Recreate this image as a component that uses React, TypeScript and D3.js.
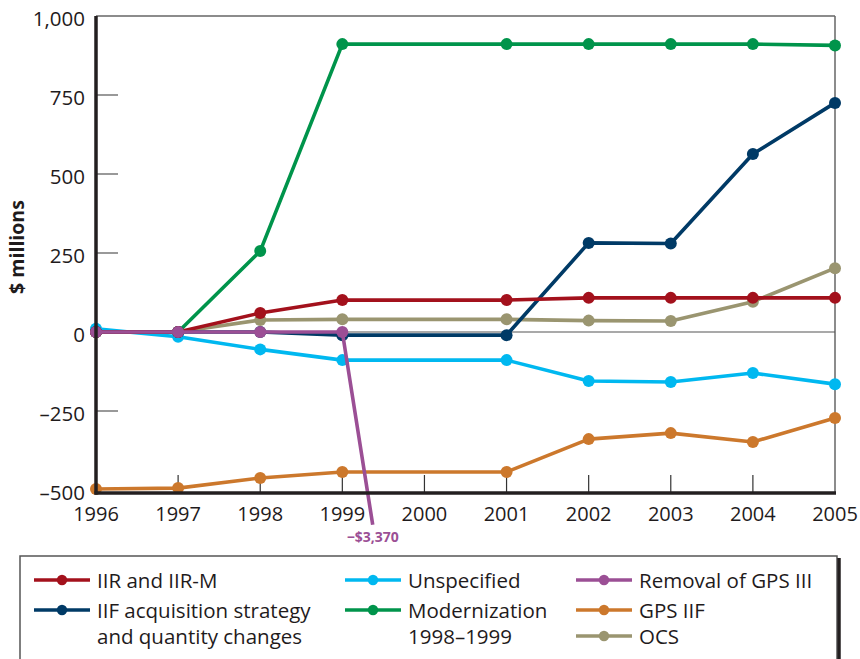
import React from "react";
import * as d3 from "d3";

const years = [1996, 1997, 1998, 1999, 2001, 2002, 2003, 2004, 2005];
const tickYears = [1996, 1997, 1998, 1999, 2000, 2001, 2002, 2003, 2004, 2005];
const yTicks = [1000, 750, 500, 250, 0, -250, -500];

const iirValues = [0, 0, 60, 101, 101, 108, 108, 108, 108];
const iifAcqValues = [0, 0, 0, -10, -10, 282, 280, 563, 725];
const unspecifiedValues = [10, -15, -55, -89, -89, -155, -158, -130, -165];
const modernizationValues = [0, 0, 256, 911, 911, 911, 911, 911, 907];
const removalYears = [1996, 1997, 1998, 1999];
const removalValues = [0, 0, 0, 0];
const removalDropValue = -3370;
const removalDropLabel = "−$3,370";
// visible end of the (broken, off-scale) drop segment
const removalDropVisibleEnd = { year: 1999.37, value: -610 };
const gpsIIFValues = [-497, -494, -462, -443, -443, -339, -320, -348, -272];
const ocsValues = [0, 0, 38, 40, 40, 36, 35, 96, 202];

const colors = {
  iir: "#a3111c",
  iif: "#003a66",
  unspec: "#00b8f0",
  modern: "#00944b",
  removal: "#9b4f95",
  gpsiif: "#cc782c",
  ocs: "#9a9570",
};

const W = 860;
const H = 659;
const font = "'Open Sans', 'Noto Sans', sans-serif";
const textColor = "#1f1b1c";

export default function App() {
  const x = d3.scaleLinear().domain([1996, 2005]).range([96, 835]);
  const y = d3.scaleLinear().domain([-500, 1000]).range([490, 16]);
  const line = d3
    .line<[number, number]>()
    .x((d) => x(d[0]))
    .y((d) => y(d[1]));

  const series = [
    { key: "ocs", vals: ocsValues, color: colors.ocs },
    { key: "gpsiif", vals: gpsIIFValues, color: colors.gpsiif },
    { key: "unspec", vals: unspecifiedValues, color: colors.unspec },
    { key: "modern", vals: modernizationValues, color: colors.modern },
    { key: "iif", vals: iifAcqValues, color: colors.iif },
    { key: "iir", vals: iirValues, color: colors.iir },
  ];

  const removalPts: [number, number][] = removalYears.map((yr, i) => [yr, removalValues[i]]);
  const removalPath = line([...removalPts, [removalDropVisibleEnd.year, removalDropVisibleEnd.value]]);

  const xAxisY = y(-500) + 3;

  const legend = [
    { color: colors.iir, lines: ["IIR and IIR-M"], col: 0, row: 0 },
    { color: colors.iif, lines: ["IIF acquisition strategy", "and quantity changes"], col: 0, row: 1 },
    { color: colors.unspec, lines: ["Unspecified"], col: 1, row: 0 },
    { color: colors.modern, lines: ["Modernization", "1998–1999"], col: 1, row: 1 },
    { color: colors.removal, lines: ["Removal of GPS III"], col: 2, row: 0 },
    { color: colors.gpsiif, lines: ["GPS IIF"], col: 2, row: 1 },
    { color: colors.ocs, lines: ["OCS"], col: 2, row: 2 },
  ];
  const colX = [34, 345, 576];
  const rowY = [580, 610, 636];

  return (
    <svg
      width={W}
      height={H}
      style={{ position: "absolute", left: 0, top: 0, background: "#fff" }}
      fontFamily={font}
    >
      {/* frame */}
      <line x1={96} x2={835} y1={16} y2={16} stroke="#666" strokeWidth={1.5} />
      <line x1={835} x2={835} y1={16} y2={xAxisY} stroke="#666" strokeWidth={1.5} />
      <line x1={96} x2={835} y1={y(0)} y2={y(0)} stroke="#555" strokeWidth={1.2} />
      {/* y ticks */}
      {yTicks
        .filter((t) => t !== 1000 && t !== 0 && t !== -500)
        .map((t) => (
          <line key={t} x1={96} x2={118} y1={y(t)} y2={y(t)} stroke="#555" strokeWidth={1.2} />
        ))}
      {/* x ticks */}
      {tickYears.slice(1, -1).map((t) => (
        <line key={t} x1={x(t)} x2={x(t)} y1={xAxisY} y2={xAxisY - 18} stroke="#333" strokeWidth={1.2} />
      ))}
      {/* y tick labels */}
      {yTicks.map((t) => (
        <text key={t} x={85} y={y(t) + 10} textAnchor="end" fontSize={20.5} fill={textColor}>
          {t < 0 ? "–" + d3.format(",")(-t) : d3.format(",")(t)}
        </text>
      ))}
      {/* x tick labels */}
      {tickYears.map((t) => (
        <text key={t} x={x(t)} y={521} textAnchor="middle" fontSize={20} fill={textColor}>
          {t}
        </text>
      ))}
      {/* y label */}
      <text
        transform={`translate(24,247) rotate(-90)`}
        textAnchor="middle"
        fontSize={19.5}
        fontWeight="bold"
        fill={textColor}
      >
        $ millions
      </text>

      {/* series */}
      {series.map((s) => (
        <g key={s.key}>
          <path
            d={line(years.map((yr, i) => [yr, s.vals[i]] as [number, number])) || ""}
            fill="none"
            stroke={s.color}
            strokeWidth={3.6}
            strokeLinejoin="round"
          />
          {years.map((yr, i) => (
            <circle key={yr} cx={x(yr)} cy={y(s.vals[i])} r={6} fill={s.color} />
          ))}
        </g>
      ))}
      <path d={removalPath || ""} fill="none" stroke={colors.removal} strokeWidth={3.6} strokeLinejoin="round" />
      {removalPts.map((d) => (
        <circle key={d[0]} cx={x(d[0])} cy={y(d[1])} r={6} fill={colors.removal} />
      ))}
      <text
        x={x(removalDropVisibleEnd.year)}
        y={542}
        textAnchor="middle"
        fontSize={14}
        fontWeight="bold"
        fill={colors.removal}
        data-value={removalDropValue}
      >
        {removalDropLabel}
      </text>

      {/* axes */}
      <line x1={96} x2={96} y1={16} y2={xAxisY + 1.5} stroke="#231f20" strokeWidth={3.5} />
      <line x1={94.5} x2={836} y1={xAxisY} y2={xAxisY} stroke="#231f20" strokeWidth={3.5} />

      {/* legend */}
      <rect x={20} y={556} width={817} height={130} fill="none" stroke="#555" strokeWidth={1.5} />
      <line x1={839} x2={839} y1={558} y2={H} stroke="#231f20" strokeWidth={3.5} />
      {legend.map((l) => {
        const lx = colX[l.col];
        const ly = rowY[l.row];
        return (
          <g key={l.lines[0]}>
            <line x1={lx} x2={lx + 56} y1={ly} y2={ly} stroke={l.color} strokeWidth={3.6} />
            <circle cx={lx + 28} cy={ly} r={5.2} fill={l.color} />
            {l.lines.map((t, i) => (
              <text key={i} x={lx + 63} y={ly + 7.5 + i * 26} fontSize={20.5} fill={textColor}>
                {t}
              </text>
            ))}
          </g>
        );
      })}
    </svg>
  );
}
